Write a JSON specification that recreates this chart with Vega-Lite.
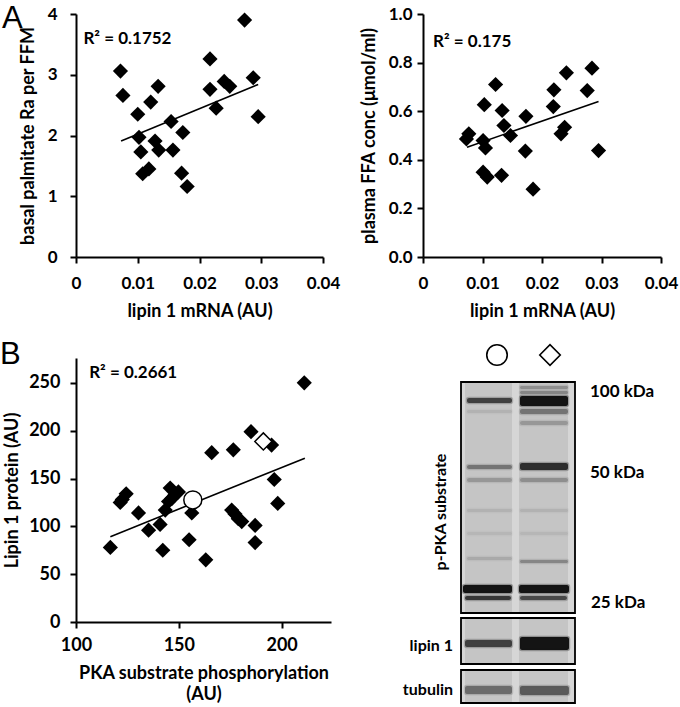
{
  "$schema": "https://vega.github.io/schema/vega-lite/v6.json",
  "autosize": {"type": "none"},
  "padding": {"left": 76, "top": 14, "right": 604, "bottom": 693},
  "background": "white",
  "columns": 2,
  "bounds": "flush",
  "spacing": {"row": 101, "column": 92},
  "config": {
    "font": "Lato",
    "view": {"stroke": null},
    "axis": {"domainColor": "black", "domainWidth": 2, "tickColor": "black", "tickWidth": 2, "tickSize": 6, "grid": false,
      "labelFont": "Lato", "labelFontWeight": "bold", "labelFontSize": 17, "labelColor": "black",
      "titleFont": "Lato", "titleFontWeight": "bold", "titleFontSize": 18, "titleColor": "black",
      "labelOverlap": false, "labelFlush": false},
    "title": {"font": "Liberation Sans", "fontSize": 31, "fontWeight": "normal", "color": "black", "anchor": "start", "frame": "group"},
    "text": {"font": "Lato", "fontWeight": "bold", "color": "black"}
  },
  "concat": [
    {
      "width": 247, "height": 243,
      "title": {"text": "A", "dx": -74, "dy": 34},
      "layer": [
        {
          "data": {"values": [
            {"mrna": 0.0072, "ra": 3.06}, {"mrna": 0.0076, "ra": 2.66}, {"mrna": 0.0100, "ra": 2.35}, {"mrna": 0.0102, "ra": 1.97},
            {"mrna": 0.0105, "ra": 1.73}, {"mrna": 0.0108, "ra": 1.37}, {"mrna": 0.0118, "ra": 1.45}, {"mrna": 0.0121, "ra": 2.55},
            {"mrna": 0.0133, "ra": 2.81}, {"mrna": 0.0128, "ra": 1.91}, {"mrna": 0.0134, "ra": 1.76}, {"mrna": 0.0154, "ra": 2.23},
            {"mrna": 0.0157, "ra": 1.76}, {"mrna": 0.0173, "ra": 2.05}, {"mrna": 0.0171, "ra": 1.38}, {"mrna": 0.0180, "ra": 1.16},
            {"mrna": 0.0217, "ra": 3.26}, {"mrna": 0.0217, "ra": 2.76}, {"mrna": 0.0227, "ra": 2.45}, {"mrna": 0.0240, "ra": 2.89},
            {"mrna": 0.0249, "ra": 2.81}, {"mrna": 0.0273, "ra": 3.90}, {"mrna": 0.0287, "ra": 2.95}, {"mrna": 0.0295, "ra": 2.31}
          ]},
          "mark": {"type": "point", "shape": "diamond", "filled": true, "color": "black", "opacity": 1, "size": 230},
          "encoding": {
            "x": {"field": "mrna", "type": "quantitative", "scale": {"domain": [0, 0.04], "nice": false, "zero": false},
              "axis": {"values": [0, 0.01, 0.02, 0.03, 0.04], "format": ".2~f", "title": "lipin 1 mRNA (AU)", "labelPadding": 12, "titlePadding": 11}},
            "y": {"field": "ra", "type": "quantitative", "scale": {"domain": [0, 4], "nice": false},
              "axis": {"values": [0, 1, 2, 3, 4], "format": "d", "title": "basal palmitate Ra per FFM", "labelPadding": 13, "titlePadding": 10}}
          }
        },
        {
          "data": {"values": [{"mrna": 0.0073, "ra": 1.91}, {"mrna": 0.0295, "ra": 2.84}]},
          "mark": {"type": "line", "color": "black", "strokeWidth": 1.6},
          "encoding": {"x": {"field": "mrna", "type": "quantitative"}, "y": {"field": "ra", "type": "quantitative"}}
        },
        {
          "data": {"values": [{"label": "R² = 0.1752", "mrna": 0.0012, "ra": 3.59}]},
          "mark": {"type": "text", "align": "left", "baseline": "middle", "fontSize": 17},
          "encoding": {"x": {"field": "mrna", "type": "quantitative"}, "y": {"field": "ra", "type": "quantitative"}, "text": {"field": "label"}}
        }
      ]
    },
    {
      "width": 238, "height": 243,
      "layer": [
        {
          "data": {"values": [
            {"mrna": 0.0077, "ffa": 0.507}, {"mrna": 0.0073, "ffa": 0.486}, {"mrna": 0.0101, "ffa": 0.479}, {"mrna": 0.0105, "ffa": 0.449},
            {"mrna": 0.0101, "ffa": 0.349}, {"mrna": 0.0108, "ffa": 0.329}, {"mrna": 0.0103, "ffa": 0.627}, {"mrna": 0.0122, "ffa": 0.710},
            {"mrna": 0.0132, "ffa": 0.336}, {"mrna": 0.0133, "ffa": 0.603}, {"mrna": 0.0136, "ffa": 0.541}, {"mrna": 0.0147, "ffa": 0.500},
            {"mrna": 0.0173, "ffa": 0.579}, {"mrna": 0.0172, "ffa": 0.436}, {"mrna": 0.0185, "ffa": 0.279}, {"mrna": 0.0220, "ffa": 0.688},
            {"mrna": 0.0219, "ffa": 0.619}, {"mrna": 0.0232, "ffa": 0.507}, {"mrna": 0.0238, "ffa": 0.534}, {"mrna": 0.0241, "ffa": 0.758},
            {"mrna": 0.0276, "ffa": 0.685}, {"mrna": 0.0284, "ffa": 0.777}, {"mrna": 0.0295, "ffa": 0.438}
          ]},
          "mark": {"type": "point", "shape": "diamond", "filled": true, "color": "black", "opacity": 1, "size": 230},
          "encoding": {
            "x": {"field": "mrna", "type": "quantitative", "scale": {"domain": [0, 0.04], "nice": false, "zero": false},
              "axis": {"values": [0, 0.01, 0.02, 0.03, 0.04], "format": ".2~f", "title": "lipin 1 mRNA (AU)", "labelPadding": 12, "titlePadding": 11}},
            "y": {"field": "ffa", "type": "quantitative", "scale": {"domain": [0, 1], "nice": false},
              "axis": {"values": [0, 0.2, 0.4, 0.6, 0.8, 1.0], "format": ".1f", "title": "plasma FFA conc (μmol/ml)", "labelPadding": 5, "titlePadding": 10}}
          }
        },
        {
          "data": {"values": [{"mrna": 0.0074, "ffa": 0.452}, {"mrna": 0.0295, "ffa": 0.640}]},
          "mark": {"type": "line", "color": "black", "strokeWidth": 1.6},
          "encoding": {"x": {"field": "mrna", "type": "quantitative"}, "y": {"field": "ffa", "type": "quantitative"}}
        },
        {
          "data": {"values": [{"label": "R² = 0.175", "mrna": 0.0017, "ffa": 0.885}]},
          "mark": {"type": "text", "align": "left", "baseline": "middle", "fontSize": 17},
          "encoding": {"x": {"field": "mrna", "type": "quantitative"}, "y": {"field": "ffa", "type": "quantitative"}, "text": {"field": "label"}}
        }
      ]
    },
    {
      "width": 255, "height": 264,
      "title": {"text": "B", "dx": -76, "dy": 17},
      "layer": [
        {
          "data": {"values": [
            {"pka": 116.7, "lipin": 78}, {"pka": 121.5, "lipin": 125}, {"pka": 122.5, "lipin": 128}, {"pka": 124.4, "lipin": 134},
            {"pka": 130.4, "lipin": 114}, {"pka": 135.3, "lipin": 96}, {"pka": 140.9, "lipin": 102}, {"pka": 142.2, "lipin": 75},
            {"pka": 143.4, "lipin": 117}, {"pka": 145.0, "lipin": 126}, {"pka": 145.8, "lipin": 140}, {"pka": 146.6, "lipin": 129},
            {"pka": 148.2, "lipin": 133}, {"pka": 149.8, "lipin": 136}, {"pka": 155.0, "lipin": 86}, {"pka": 156.3, "lipin": 114},
            {"pka": 163.1, "lipin": 65}, {"pka": 166.0, "lipin": 177}, {"pka": 176.5, "lipin": 180}, {"pka": 175.7, "lipin": 117},
            {"pka": 177.3, "lipin": 113}, {"pka": 178.9, "lipin": 108}, {"pka": 180.6, "lipin": 105}, {"pka": 185.1, "lipin": 199},
            {"pka": 187.1, "lipin": 101}, {"pka": 187.1, "lipin": 83}, {"pka": 195.1, "lipin": 185}, {"pka": 196.4, "lipin": 149},
            {"pka": 198.1, "lipin": 124}, {"pka": 211.0, "lipin": 250}
          ]},
          "mark": {"type": "point", "shape": "diamond", "filled": true, "color": "black", "opacity": 1, "size": 230},
          "encoding": {
            "x": {"field": "pka", "type": "quantitative", "scale": {"domain": [100, 224], "nice": false, "zero": false},
              "axis": {"values": [100, 150, 200], "title": ["PKA substrate phosphorylation", "(AU)"], "labelFontSize": 18, "labelPadding": 8, "titlePadding": 10, "titleLineHeight": 21}},
            "y": {"field": "lipin", "type": "quantitative", "scale": {"domain": [0, 276], "nice": false},
              "axis": {"values": [0, 50, 100, 150, 200, 250], "title": "Lipin 1  protein (AU)", "labelFontSize": 18, "labelPadding": 10, "titlePadding": 7}}
          }
        },
        {
          "data": {"values": [{"pka": 116.7, "lipin": 89.2}, {"pka": 211.3, "lipin": 171.3}]},
          "mark": {"type": "line", "color": "black", "strokeWidth": 1.6},
          "encoding": {"x": {"field": "pka", "type": "quantitative"}, "y": {"field": "lipin", "type": "quantitative"}}
        },
        {
          "data": {"values": [{"pka": 156.8, "lipin": 127.6}]},
          "mark": {"type": "point", "shape": "circle", "filled": true, "fill": "white", "stroke": "black", "strokeWidth": 1.5, "size": 324, "opacity": 1},
          "encoding": {"x": {"field": "pka", "type": "quantitative"}, "y": {"field": "lipin", "type": "quantitative"}}
        },
        {
          "data": {"values": [{"pka": 191.1, "lipin": 188.8}]},
          "mark": {"type": "point", "shape": "diamond", "filled": true, "fill": "white", "stroke": "black", "strokeWidth": 1.5, "size": 290, "opacity": 1},
          "encoding": {"x": {"field": "pka", "type": "quantitative"}, "y": {"field": "lipin", "type": "quantitative"}}
        },
        {
          "data": {"values": [{"label": "R² = 0.2661", "pka": 106.4, "lipin": 260}]},
          "mark": {"type": "text", "align": "left", "baseline": "middle", "fontSize": 17},
          "encoding": {"x": {"field": "pka", "type": "quantitative"}, "y": {"field": "lipin", "type": "quantitative"}, "text": {"field": "label"}}
        }
      ]
    },
    {
      "width": 257, "height": 346,
      "layer": [
        {
          "data": {"values": [
            {"blot": "p-PKA substrate", "u": 38, "u2": 152, "v": 24, "v2": 255},
            {"blot": "lipin 1", "u": 38, "u2": 152, "v": 260, "v2": 306},
            {"blot": "tubulin", "u": 38, "u2": 152, "v": 312, "v2": 345}
          ]},
          "mark": {"type": "rect", "fill": "#c5c5c5"},
          "encoding": {
            "x": {"field": "u", "type": "quantitative", "scale": {"domain": [0, 257], "nice": false, "zero": false}, "axis": null},
            "x2": {"field": "u2"},
            "y": {"field": "v", "type": "quantitative", "scale": {"domain": [0, 346], "nice": false, "zero": false, "reverse": true}, "axis": null},
            "y2": {"field": "v2"}
          }
        },
        {
          "data": {"values": [
            {"u": 38, "u2": 42, "v": 24, "v2": 255}, {"u": 89, "u2": 96, "v": 24, "v2": 255}, {"u": 145, "u2": 152, "v": 24, "v2": 255},
            {"u": 38, "u2": 42, "v": 260, "v2": 306}, {"u": 89, "u2": 96, "v": 260, "v2": 306}, {"u": 145, "u2": 152, "v": 260, "v2": 306},
            {"u": 38, "u2": 42, "v": 312, "v2": 345}, {"u": 89, "u2": 96, "v": 312, "v2": 345}, {"u": 145, "u2": 152, "v": 312, "v2": 345}
          ]},
          "mark": {"type": "rect", "fill": "white", "opacity": 0.3},
          "encoding": {"x": {"field": "u", "type": "quantitative"}, "x2": {"field": "u2"}, "y": {"field": "v", "type": "quantitative"}, "y2": {"field": "v2"}}
        },
        {
          "data": {"values": [
            {"lane": 1, "u": 44, "u2": 89, "v": 40, "v2": 45, "intensity": 0.75},
            {"lane": 1, "u": 44, "u2": 89, "v": 52, "v2": 55, "intensity": 0.1},
            {"lane": 1, "u": 44, "u2": 89, "v": 107, "v2": 111, "intensity": 0.45},
            {"lane": 1, "u": 44, "u2": 89, "v": 120, "v2": 124, "intensity": 0.25},
            {"lane": 1, "u": 44, "u2": 89, "v": 151, "v2": 154, "intensity": 0.1},
            {"lane": 1, "u": 44, "u2": 89, "v": 174, "v2": 177, "intensity": 0.08},
            {"lane": 1, "u": 44, "u2": 89, "v": 199, "v2": 202, "intensity": 0.15},
            {"lane": 1, "u": 40, "u2": 89, "v": 227, "v2": 235, "intensity": 1.0},
            {"lane": 1, "u": 42, "u2": 88, "v": 238, "v2": 242, "intensity": 0.8},
            {"lane": 2, "u": 97, "u2": 145, "v": 28, "v2": 31, "intensity": 0.3},
            {"lane": 2, "u": 97, "u2": 145, "v": 33, "v2": 36, "intensity": 0.35},
            {"lane": 2, "u": 97, "u2": 145, "v": 38, "v2": 48, "intensity": 1.0},
            {"lane": 2, "u": 97, "u2": 145, "v": 51, "v2": 56, "intensity": 0.45},
            {"lane": 2, "u": 97, "u2": 145, "v": 63, "v2": 67, "intensity": 0.25},
            {"lane": 2, "u": 97, "u2": 145, "v": 105, "v2": 112, "intensity": 0.85},
            {"lane": 2, "u": 97, "u2": 145, "v": 120, "v2": 124, "intensity": 0.3},
            {"lane": 2, "u": 97, "u2": 145, "v": 151, "v2": 154, "intensity": 0.1},
            {"lane": 2, "u": 97, "u2": 145, "v": 174, "v2": 177, "intensity": 0.08},
            {"lane": 2, "u": 97, "u2": 145, "v": 202, "v2": 205, "intensity": 0.35},
            {"lane": 2, "u": 96, "u2": 146, "v": 227, "v2": 235, "intensity": 1.0},
            {"lane": 2, "u": 97, "u2": 144, "v": 238, "v2": 242, "intensity": 0.7},
            {"lane": 1, "u": 42, "u2": 89, "v": 282, "v2": 289, "intensity": 0.75},
            {"lane": 2, "u": 97, "u2": 146, "v": 279, "v2": 292, "intensity": 1.0},
            {"lane": 1, "u": 42, "u2": 89, "v": 328, "v2": 336, "intensity": 0.5},
            {"lane": 2, "u": 97, "u2": 146, "v": 328, "v2": 337, "intensity": 0.6}
          ]},
          "mark": {"type": "rect", "fill": "#141414", "stroke": "#141414", "strokeWidth": 2.5, "strokeOpacity": 0.3, "cornerRadius": 2},
          "encoding": {
            "x": {"field": "u", "type": "quantitative"}, "x2": {"field": "u2"},
            "y": {"field": "v", "type": "quantitative"}, "y2": {"field": "v2"},
            "opacity": {"field": "intensity", "type": "quantitative", "scale": {"domain": [0, 1], "range": [0, 1]}, "legend": null}
          }
        },
        {
          "data": {"values": [
            {"blot": "p-PKA substrate", "u": 38, "u2": 152, "v": 24, "v2": 255},
            {"blot": "lipin 1", "u": 38, "u2": 152, "v": 260, "v2": 306},
            {"blot": "tubulin", "u": 38, "u2": 152, "v": 312, "v2": 345}
          ]},
          "mark": {"type": "rect", "fill": null, "fillOpacity": 0, "stroke": "black", "strokeWidth": 1.8},
          "encoding": {"x": {"field": "u", "type": "quantitative"}, "x2": {"field": "u2"}, "y": {"field": "v", "type": "quantitative"}, "y2": {"field": "v2"}}
        },
        {
          "data": {"values": [
            {"label": "100 kDa", "u": 167, "v": 34}, {"label": "50 kDa", "u": 167, "v": 115}, {"label": "25 kDa", "u": 168, "v": 245}
          ]},
          "mark": {"type": "text", "align": "left", "baseline": "middle", "fontSize": 17},
          "encoding": {"x": {"field": "u", "type": "quantitative"}, "y": {"field": "v", "type": "quantitative"}, "text": {"field": "label"}}
        },
        {
          "data": {"values": [{"label": "lipin 1", "u": 30, "v": 288}, {"label": "tubulin", "u": 30, "v": 332}]},
          "mark": {"type": "text", "align": "right", "baseline": "middle", "fontSize": 16},
          "encoding": {"x": {"field": "u", "type": "quantitative"}, "y": {"field": "v", "type": "quantitative"}, "text": {"field": "label"}}
        },
        {
          "data": {"values": [{"label": "p-PKA substrate", "u": 18, "v": 154}]},
          "mark": {"type": "text", "align": "center", "baseline": "middle", "fontSize": 16, "angle": 270},
          "encoding": {"x": {"field": "u", "type": "quantitative"}, "y": {"field": "v", "type": "quantitative"}, "text": {"field": "label"}}
        },
        {
          "data": {"values": [{"sample": "circle", "u": 74, "v": -3}, {"sample": "diamond", "u": 127, "v": -3}]},
          "mark": {"type": "point", "filled": false, "stroke": "black", "strokeWidth": 1.6, "size": 420, "opacity": 1},
          "encoding": {
            "x": {"field": "u", "type": "quantitative"}, "y": {"field": "v", "type": "quantitative"},
            "shape": {"field": "sample", "type": "nominal", "scale": {"domain": ["circle", "diamond"], "range": ["circle", "diamond"]}, "legend": null}
          }
        }
      ]
    }
  ]
}
